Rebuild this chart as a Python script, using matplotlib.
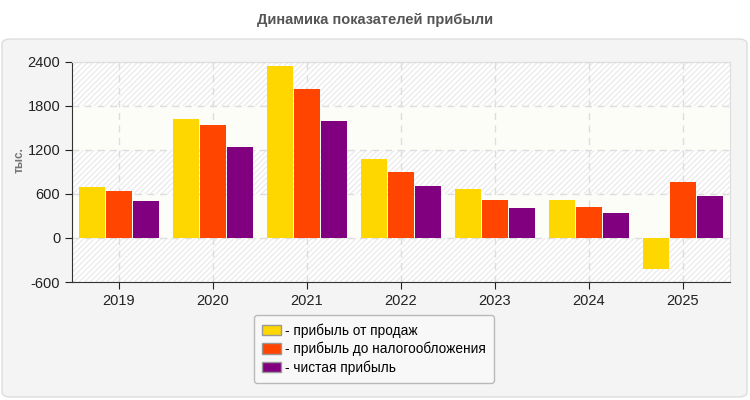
import numpy as np
import matplotlib.pyplot as plt
from matplotlib.patches import FancyBboxPatch, Rectangle

plt.rcParams['font.family'] = ['Liberation Sans', 'DejaVu Sans']
plt.rcParams['axes.unicode_minus'] = False

years = ['2019', '2020', '2021', '2022', '2023', '2024', '2025']
sales_profit = [700, 1628, 2350, 1080, 672, 522, -425]
pretax_profit = [645, 1545, 2025, 905, 522, 427, 768]
net_profit = [508, 1245, 1590, 715, 413, 345, 577]
series_names = ['- прибыль от продаж', '- прибыль до налогообложения', '- чистая прибыль']
colors = ['#FFD700', '#FF4500', '#800080']
yticks = [-600, 0, 600, 1200, 1800, 2400]

fig = plt.figure(figsize=(7.5, 4), dpi=100)
fig.patch.set_facecolor('white')

# panel behind the chart
panel = FancyBboxPatch((2 / 750, 3 / 400), 745 / 750, 358 / 400,
                       boxstyle='round,pad=0,rounding_size=0.012',
                       transform=fig.transFigure, facecolor='#f4f4f4',
                       edgecolor='#dddddd', linewidth=1, zorder=-5)
fig.patches.append(panel)

fig.text(0.5, 1 - 20 / 400, 'Динамика показателей прибыли', ha='center', va='center',
         fontsize=10.5, fontweight='bold', color='#555555')

ax = fig.add_axes([72 / 750, 1 - 282 / 400, 658 / 750, 220 / 400])
ax.set_facecolor('#fdfdf8')
ax.set_xlim(-0.5, len(years) - 0.5)
ax.set_ylim(-600, 2400)

# alternating hatched bands
for i in range(len(yticks) - 1):
    if i % 2 == 0:
        ax.add_patch(Rectangle((-0.5, yticks[i]), len(years), yticks[i + 1] - yticks[i],
                               facecolor='#ffffff', edgecolor='#ececec', hatch='//////',
                               linewidth=0, zorder=0))

x = np.arange(len(years))
width = 0.278
step = 0.288
for k, (vals, name) in enumerate(zip([sales_profit, pretax_profit, net_profit], series_names)):
    ax.bar(x + (k - 1) * step, vals, width, color=colors[k], label=name, zorder=3)

ax.set_yticks(yticks)
ax.set_xticks(x)
ax.set_xticklabels(years)
ax.grid(True, color='#dddddd', linestyle=(0, (5, 4)), linewidth=1, zorder=1)
ax.set_axisbelow(True)
ax.tick_params(labelsize=10.5, colors='#222222', direction='out', length=5)
for s in ['top', 'right']:
    ax.spines[s].set_color('#dddddd')
for s in ['left', 'bottom']:
    ax.spines[s].set_color('#333333')
ax.set_ylabel('тыс.', fontsize=8.5, fontweight='bold', color='#777777')
ax.yaxis.set_label_coords(-46 / 658, 0.555)

leg = fig.legend(loc='center', bbox_to_anchor=(374 / 750, 1 - 349 / 400), ncol=1,
                 fontsize=9.8, frameon=True, facecolor='#fafafa', edgecolor='#aaaaaa',
                 handlelength=1.4, handleheight=0.8, handletextpad=0.3,
                 labelspacing=0.3, borderpad=0.6, fancybox=True)
for h in leg.legend_handles:
    h.set_edgecolor('#999999')
    h.set_linewidth(1)
leg.get_frame().set_linewidth(1)

fig.savefig('out.png', dpi=100)
